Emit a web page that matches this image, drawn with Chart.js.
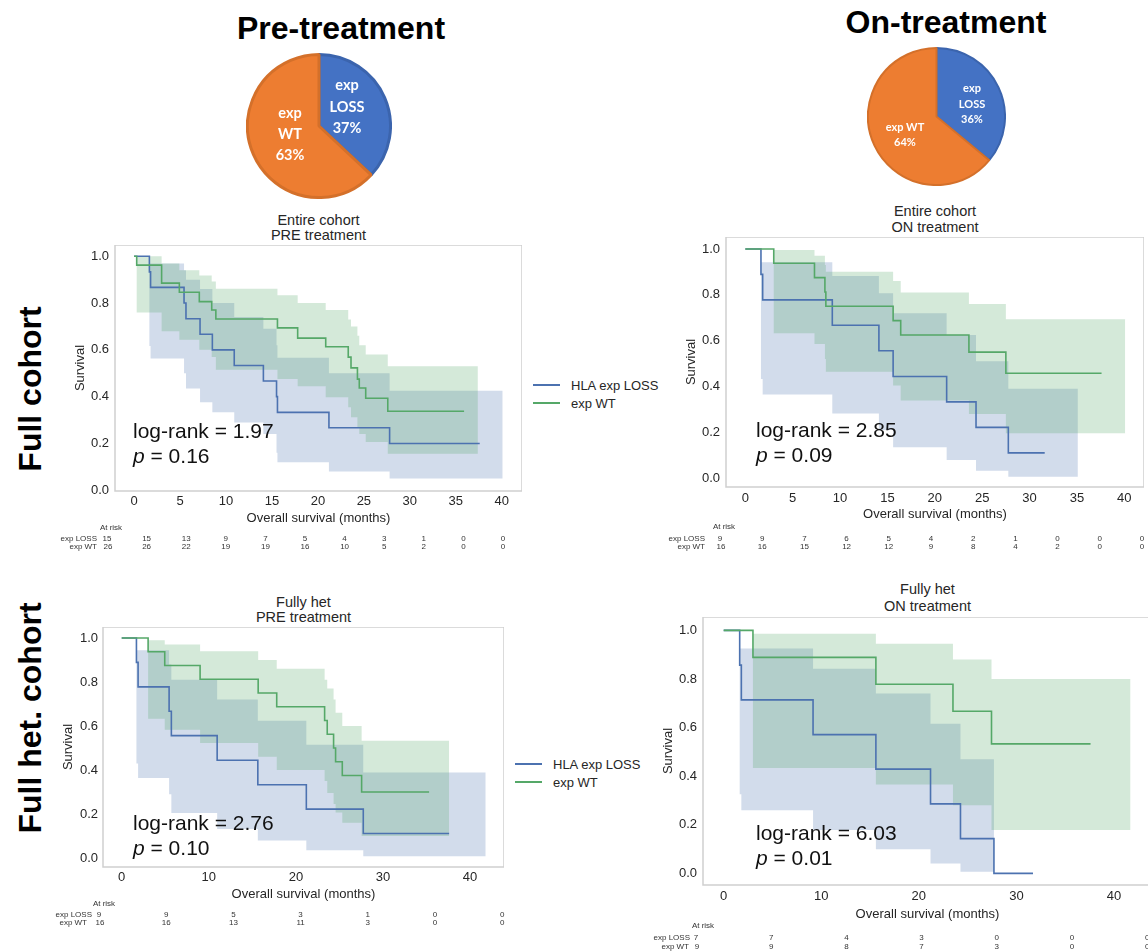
<!DOCTYPE html>
<html><head><meta charset="utf-8">
<script src="https://cdn.jsdelivr.net/npm/chart.js@4.4.1/dist/chart.umd.min.js"></script>
<style>
html,body{margin:0;padding:0;background:#fff;}
body{width:1148px;height:951px;overflow:hidden;position:relative;font-family:"Liberation Sans",Arial,sans-serif;color:#262626;}
canvas{position:absolute;}
.t{position:absolute;white-space:nowrap;line-height:1;}
</style></head><body>
<canvas id="pie1"></canvas><canvas id="pie2"></canvas>
<canvas id="kmA"></canvas><canvas id="kmB"></canvas><canvas id="kmC"></canvas><canvas id="kmD"></canvas>
<script>
// ---------------- DATA ----------------
const pieLabels = ['exp LOSS', 'exp WT'];
const prePie = [37, 63];
const onPie = [36, 64];

const yTickVals = [0, 0.2, 0.4, 0.6, 0.8, 1.0];
const xTicks5 = [0, 5, 10, 15, 20, 25, 30, 35, 40];
const xTicks10 = [0, 10, 20, 30, 40];
const seriesNames = ['HLA exp LOSS', 'exp WT'];

// Panel A: Entire cohort, PRE treatment
const aLossT = [0, 1.67, 1.8, 5.44, 5.65, 7.18, 8.52, 10.9, 14.07, 15.5, 15.6, 21.2, 27.8, 37.6];
const aLossS = [1, 0.933, 0.867, 0.80, 0.733, 0.667, 0.60, 0.533, 0.467, 0.40, 0.333, 0.267, 0.20, 0.20];
const aLossBT = [0, 1.67, 1.8, 5.44, 5.65, 7.18, 8.52, 10.9, 14.07, 15.5, 15.6, 21.2, 27.8, 40.1];
const aLossHi = [1, 0.969, 0.969, 0.94, 0.90, 0.86, 0.80, 0.74, 0.69, 0.62, 0.566, 0.50, 0.425, 0.425];
const aLossLo = [1, 0.617, 0.563, 0.50, 0.435, 0.376, 0.333, 0.29, 0.24, 0.16, 0.12, 0.08, 0.05, 0.05];
const aWtT = [0, 0.29, 3.0, 4.93, 7.1, 8.45, 8.9, 15.6, 17.8, 20.85, 23.3, 23.6, 24.3, 24.5, 25.2, 27.6, 35.9];
const aWtS = [1, 0.962, 0.885, 0.846, 0.806, 0.77, 0.732, 0.694, 0.65, 0.613, 0.569, 0.523, 0.475, 0.437, 0.393, 0.338, 0.338];
const aWtBT = [0, 0.29, 3.0, 4.93, 7.1, 8.45, 8.9, 15.6, 17.8, 20.85, 23.3, 23.6, 24.3, 24.5, 25.2, 27.6, 37.4];
const aWtHi = [1, 1.0, 0.969, 0.94, 0.918, 0.892, 0.861, 0.833, 0.80, 0.77, 0.73, 0.70, 0.66, 0.62, 0.58, 0.53, 0.53];
const aWtLo = [1, 0.76, 0.68, 0.643, 0.60, 0.57, 0.515, 0.475, 0.445, 0.397, 0.355, 0.312, 0.27, 0.24, 0.206, 0.156, 0.156];
const aRiskLoss = [15, 15, 13, 9, 7, 5, 4, 3, 1, 0, 0];
const aRiskWt = [26, 26, 22, 19, 19, 16, 10, 5, 2, 0, 0];

// Panel B: Entire cohort, ON treatment
const bLossT = [0, 1.65, 1.83, 9.18, 14.1, 15.6, 21.25, 24.35, 27.76, 31.6];
const bLossS = [1, 0.889, 0.778, 0.667, 0.556, 0.444, 0.333, 0.222, 0.111, 0.111];
const bLossBT = [0, 1.65, 1.83, 9.18, 14.1, 15.6, 21.25, 24.35, 27.76, 35.1];
const bLossHi = [1, 0.942, 0.942, 0.882, 0.807, 0.72, 0.625, 0.51, 0.39, 0.39];
const bLossLo = [1, 0.433, 0.365, 0.282, 0.21, 0.135, 0.08, 0.033, 0.007, 0.007];
const bWtT = [0, 3.0, 7.3, 8.4, 8.5, 15.6, 16.4, 23.6, 27.5, 37.6];
const bWtS = [1, 0.9375, 0.875, 0.8125, 0.75, 0.6875, 0.625, 0.55, 0.458, 0.458];
const bWtBT = [0, 3.0, 7.3, 8.4, 8.5, 15.6, 16.4, 23.6, 27.5, 40.1];
const bWtHi = [1, 0.995, 0.97, 0.93, 0.90, 0.86, 0.81, 0.76, 0.693, 0.693];
const bWtLo = [1, 0.632, 0.586, 0.52, 0.464, 0.405, 0.339, 0.28, 0.196, 0.196];
const bRiskLoss = [9, 9, 7, 6, 5, 4, 2, 1, 0, 0, 0];
const bRiskWt = [16, 16, 15, 12, 12, 9, 8, 4, 2, 0, 0];

// Panel C: Fully het, PRE treatment
const cLossT = [0, 1.69, 1.88, 5.44, 5.7, 10.96, 15.63, 21.2, 27.74, 37.6];
const cLossS = [1, 0.889, 0.778, 0.667, 0.556, 0.444, 0.333, 0.222, 0.111, 0.111];
const cLossBT = [0, 1.69, 1.88, 5.44, 5.7, 10.96, 15.63, 21.2, 27.74, 41.8];
const cLossHi = [1, 0.944, 0.944, 0.88, 0.81, 0.72, 0.624, 0.515, 0.389, 0.389];
const cLossLo = [1, 0.43, 0.364, 0.29, 0.205, 0.132, 0.08, 0.035, 0.008, 0.008];
const cWtT = [0, 3.03, 4.94, 9.0, 15.67, 17.8, 23.3, 23.6, 24.33, 24.56, 25.33, 27.55, 35.3];
const cWtS = [1, 0.9375, 0.875, 0.8125, 0.75, 0.6875, 0.625, 0.5625, 0.50, 0.4375, 0.375, 0.30, 0.30];
const cWtBT = [0, 3.03, 4.94, 9.0, 15.67, 17.8, 23.3, 23.6, 24.33, 24.56, 25.33, 27.55, 37.6];
const cWtHi = [1, 0.99, 0.97, 0.94, 0.90, 0.86, 0.81, 0.77, 0.72, 0.66, 0.60, 0.533, 0.533];
const cWtLo = [1, 0.633, 0.583, 0.523, 0.46, 0.40, 0.35, 0.295, 0.245, 0.207, 0.16, 0.10, 0.10];
const cRiskLoss = [9, 9, 5, 3, 1, 0, 0];
const cRiskWt = [16, 16, 13, 11, 3, 0, 0];

// Panel D: Fully het, ON treatment
const dLossT = [0, 1.64, 1.81, 9.16, 15.6, 21.2, 24.27, 27.7, 31.7];
const dLossS = [1, 0.857, 0.714, 0.571, 0.429, 0.286, 0.143, 0, 0];
const dLossBT = [0, 1.64, 1.81, 9.16, 15.6, 21.2, 24.27, 27.7, 31.7];
const dLossHi = [1, 0.925, 0.925, 0.842, 0.74, 0.616, 0.47, 0, 0];
const dLossLo = [1, 0.326, 0.26, 0.178, 0.099, 0.041, 0.007, 0, 0];
const dWtT = [0, 3.0, 15.6, 23.5, 27.45, 37.6];
const dWtS = [1, 0.889, 0.778, 0.667, 0.533, 0.533];
const dWtBT = [0, 3.0, 15.6, 23.5, 27.45, 41.7];
const dWtHi = [1, 0.986, 0.945, 0.88, 0.80, 0.80];
const dWtLo = [1, 0.434, 0.366, 0.28, 0.178, 0.178];
const dRiskLoss = [7, 7, 4, 3, 0, 0, 0];
const dRiskWt = [9, 9, 8, 7, 3, 0, 0];

// ---------------- RENDER ----------------
const FONT = '"Liberation Sans", Arial, sans-serif';
Chart.defaults.font.family = FONT;
const BLUE = '#4c72b0', GREEN = '#55a868';
const BLUE_BAND = 'rgba(76,114,176,0.25)', GREEN_BAND = 'rgba(85,168,104,0.25)';
const TXT = '#262626';

function put(html, x, y, css, anchor) {
  const d = document.createElement('div');
  d.className = 't';
  d.innerHTML = html;
  d.style.left = x + 'px';
  d.style.top = y + 'px';
  const tx = anchor === 'l' ? '0' : anchor === 'r' ? '-100%' : '-50%';
  d.style.transform = 'translate(' + tx + ',-50%)' + (css && css.rot ? ' rotate(' + css.rot + ')' : '');
  if (css) { for (const k in css) if (k !== 'rot') d.style[k] = css[k]; }
  document.body.appendChild(d);
  return d;
}

// pies
function pie(id, vals, size, cx, cy, bw) {
  const cv = document.getElementById(id);
  cv.width = size; cv.height = size;
  cv.style.left = (cx - size / 2) + 'px'; cv.style.top = (cy - size / 2) + 'px';
  new Chart(cv, {
    type: 'pie',
    data: { labels: pieLabels, datasets: [{ data: vals, backgroundColor: ['#4472c4', '#ed7d31'], borderColor: ['#3b64ad', '#d4702a'], borderWidth: bw }] },
    options: { responsive: false, animation: false, devicePixelRatio: 1, layout: { padding: 0 }, plugins: { legend: { display: false }, tooltip: { enabled: false } } }
  });
}
pie('pie1', prePie, 146, 319, 126, 3);
pie('pie2', onPie, 139, 936, 116, 2);

const framePlugin = {
  id: 'frame',
  afterDraw(c) {
    const a = c.chartArea, ctx = c.ctx;
    ctx.save(); ctx.strokeStyle = '#cfcfcf'; ctx.lineWidth = 1.5;
    ctx.strokeRect(a.left, a.top, a.right - a.left, a.bottom - a.top);
    ctx.restore();
  }
};

const pts = (T, S) => T.map((t, i) => ({ x: t, y: S[i] }));

function km(id, fr, yW, xH, xr, yr, xTicks, tickPadX, tickPadY, yTitlePad, xTitlePad, loss, wt) {
  const cv = document.getElementById(id);
  const W = fr.r - fr.l + yW, H = fr.b - fr.t + xH;
  cv.width = W; cv.height = H;
  cv.style.left = (fr.l - yW) + 'px'; cv.style.top = fr.t + 'px';
  const band = { borderColor: 'transparent', borderWidth: 0, stepped: true, pointRadius: 0 };
  new Chart(cv, {
    type: 'line',
    data: { datasets: [
      { label: seriesNames[1], data: pts(wt.t, wt.s), borderColor: GREEN, borderWidth: 1.6, stepped: true, pointRadius: 0, fill: false },
      { label: seriesNames[0], data: pts(loss.t, loss.s), borderColor: BLUE, borderWidth: 1.6, stepped: true, pointRadius: 0, fill: false },
      Object.assign({ data: pts(wt.bt, wt.hi), fill: false }, band),
      Object.assign({ data: pts(wt.bt, wt.lo), fill: '-1', backgroundColor: GREEN_BAND }, band),
      Object.assign({ data: pts(loss.bt, loss.hi), fill: false }, band),
      Object.assign({ data: pts(loss.bt, loss.lo), fill: '-1', backgroundColor: BLUE_BAND }, band)
    ] },
    options: {
      responsive: false, animation: false, devicePixelRatio: 1,
      layout: { padding: 0 },
      plugins: { legend: { display: false }, tooltip: { enabled: false } },
      scales: {
        x: {
          type: 'linear', min: xr[0], max: xr[1],
          grid: { display: false, drawTicks: false }, border: { display: false },
          afterBuildTicks: s => { s.ticks = xTicks.map(v => ({ value: v })); },
          afterFit: s => { s.height = xH; s.paddingLeft = 0; s.paddingRight = 0; },
          ticks: { padding: tickPadX, color: TXT, font: { size: 13 }, callback: v => String(v) },
          title: { display: true, text: 'Overall survival (months)', color: TXT, font: { size: 13 }, padding: { top: 0, bottom: xTitlePad } }
        },
        y: {
          type: 'linear', min: yr[0], max: yr[1],
          grid: { display: false, drawTicks: false }, border: { display: false },
          afterBuildTicks: s => { s.ticks = yTickVals.map(v => ({ value: v })); },
          afterFit: s => { s.width = yW; s.paddingTop = 0; s.paddingBottom = 0; },
          ticks: { padding: tickPadY, color: TXT, font: { size: 13 }, callback: v => Number(v).toFixed(1) },
          title: { display: true, text: 'Survival', color: TXT, font: { size: 13 }, padding: { top: yTitlePad, bottom: 0 } }
        }
      }
    },
    plugins: [framePlugin]
  });
}

const frA = { l: 115, r: 522, t: 245, b: 491 };
const frB = { l: 726, r: 1144, t: 237, b: 487 };
const frC = { l: 103, r: 504, t: 627, b: 867 };
const frD = { l: 703, r: 1152, t: 617, b: 885 };

km('kmA', frA, 45, 36, [-2.07, 42.2], [-0.003, 1.048], xTicks5, 3, 6, 2.2, 1,
  { t: aLossT, s: aLossS, bt: aLossBT, hi: aLossHi, lo: aLossLo },
  { t: aWtT, s: aWtS, bt: aWtBT, hi: aWtHi, lo: aWtLo });
km('kmB', frB, 45, 36, [-2.04, 42.08], [-0.038, 1.052], xTicks5, 4, 6, 2.2, 1,
  { t: bLossT, s: bLossS, bt: bLossBT, hi: bLossHi, lo: bLossLo },
  { t: bWtT, s: bWtS, bt: bWtBT, hi: bWtHi, lo: bWtLo });
km('kmC', frC, 45, 36, [-2.15, 43.9], [-0.041, 1.05], xTicks10, 3, 5, 2.2, 1,
  { t: cLossT, s: cLossS, bt: cLossBT, hi: cLossHi, lo: cLossLo },
  { t: cWtT, s: cWtS, bt: cWtBT, hi: cWtHi, lo: cWtLo });
km('kmD', frD, 45, 38, [-2.12, 43.9], [-0.048, 1.055], xTicks10, 4, 6, 2.2, 1,
  { t: dLossT, s: dLossS, bt: dLossBT, hi: dLossHi, lo: dLossLo },
  { t: dWtT, s: dWtS, bt: dWtBT, hi: dWtHi, lo: dWtLo });

// plot titles
function title2(l1, l2, cx, y1, y2) {
  put(l1, cx, y1, { fontSize: '14.5px', color: TXT }, 'c');
  put(l2, cx, y2, { fontSize: '14.5px', color: TXT }, 'c');
}
title2('Entire cohort', 'PRE treatment', 318.5, 220, 235);
title2('Entire cohort', 'ON treatment', 935, 211, 227);
title2('Fully het', 'PRE treatment', 303.5, 602, 617);
title2('Fully het', 'ON treatment', 927.5, 589, 606);

// log-rank annotations
function stat(lr, p, x, y1, y2) {
  put('log-rank = ' + lr, x, y1, { fontSize: '21px', color: '#111' }, 'l');
  put('<i>p</i> = ' + p, x, y2, { fontSize: '21px', color: '#111' }, 'l');
}
stat('1.97', '0.16', 133, 430, 455);
stat('2.85', '0.09', 756, 429, 454);
stat('2.76', '0.10', 133, 822, 847);
stat('6.03', '0.01', 756, 832, 857);

// legends
function legend(x, y1, y2) {
  [[BLUE, seriesNames[0], y1], [GREEN, seriesNames[1], y2]].forEach(([c, n, y]) => {
    const ln = document.createElement('div');
    ln.style.cssText = 'position:absolute;left:' + x + 'px;top:' + (y - 0.75) + 'px;width:27px;height:1.5px;background:' + c + ';';
    document.body.appendChild(ln);
    put(n, x + 38, y, { fontSize: '13px', color: TXT }, 'l');
  });
}
legend(533, 385, 403);
legend(515, 764, 782);

// at-risk tables
function risk(x0, step, headX, headY, labelR1, labelR2, y1, y2, loss, wt) {
  const css = { fontSize: '8px', color: '#333' };
  put('At risk', headX, headY, css, 'c');
  put('exp LOSS', labelR1, y1, css, 'r');
  put('exp WT', labelR2, y2, css, 'r');
  loss.forEach((v, i) => put(String(v), x0 + i * step, y1, css, 'c'));
  wt.forEach((v, i) => put(String(v), x0 + i * step + (i === 0 ? 1 : 0), y2, css, 'c'));
}
risk(107, 39.6, 111, 528, 97, 97, 539, 547, aRiskLoss, aRiskWt);
risk(720, 42.2, 724, 527, 705, 705, 539, 547, bRiskLoss, bRiskWt);
risk(99, 67.2, 104, 904, 92, 87, 915, 923, cRiskLoss, cRiskWt);
risk(696, 75.2, 703, 926, 690, 689, 938, 947, dRiskLoss, dRiskWt);

// pie titles and labels
put('Pre-treatment', 341, 28, { fontSize: '32px', fontWeight: 'bold', color: '#000' }, 'c');
put('On-treatment', 946, 22, { fontSize: '32px', fontWeight: 'bold', color: '#000' }, 'c');
const pl1 = { fontSize: '14.5px', fontWeight: 'bold', color: '#fff', fontFamily: 'Lato, sans-serif' };
put('exp', 347, 85, pl1, 'c'); put('LOSS', 347, 107, pl1, 'c'); put(prePie[0] + '%', 347, 128, pl1, 'c');
put('exp', 290, 113, pl1, 'c'); put('WT', 290, 134, pl1, 'c'); put(prePie[1] + '%', 290, 155, pl1, 'c');
const pl2 = { fontSize: '11px', fontWeight: 'bold', color: '#fff', fontFamily: 'Lato, sans-serif' };
put('exp', 972, 87, pl2, 'c'); put('LOSS', 972, 103, pl2, 'c'); put(onPie[0] + '%', 972, 118, pl2, 'c');
put('exp WT', 905, 126, pl2, 'c'); put(onPie[1] + '%', 905, 141, pl2, 'c');

// row labels
put('Full cohort', 30, 389, { fontSize: '32px', fontWeight: 'bold', color: '#000', rot: '-90deg' }, 'c');
put('Full het. cohort', 30, 718, { fontSize: '32px', fontWeight: 'bold', color: '#000', rot: '-90deg' }, 'c');
</script></body></html>
